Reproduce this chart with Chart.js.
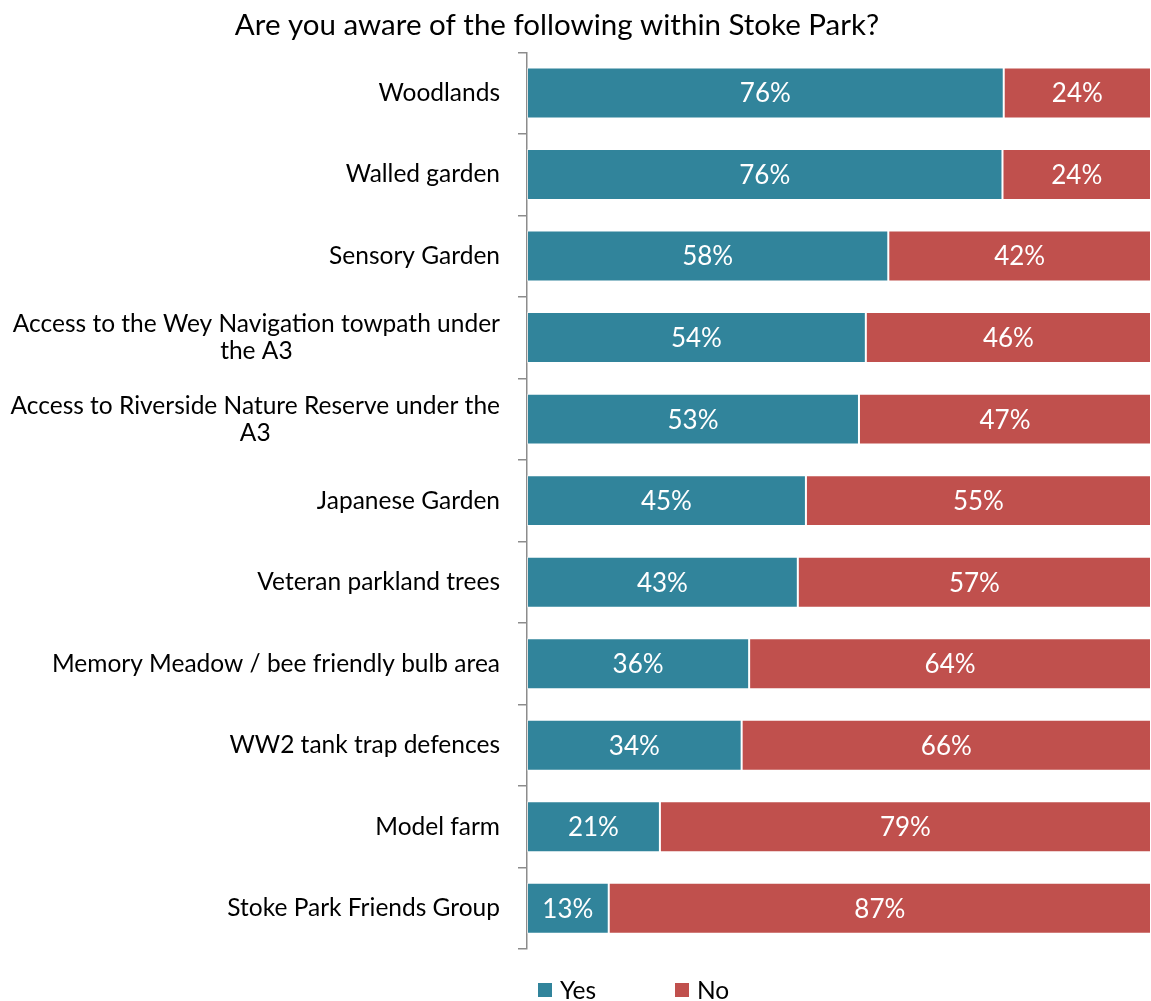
<!DOCTYPE html>
<html>
<head>
<meta charset="utf-8">
<script src="https://cdn.jsdelivr.net/npm/chart.js@4.4.1/dist/chart.umd.min.js"></script>
<style>
  html, body { margin: 0; padding: 0; background: #ffffff; }
  #wrap { width: 1151px; height: 1001px; position: relative; }
</style>
</head>
<body>
<div id="wrap"><canvas id="c"></canvas></div>
<script>
const titleText = "Are you aware of the following within Stoke Park?";
const categories = [
  ["Woodlands"],
  ["Walled garden"],
  ["Sensory Garden"],
  ["Access to the Wey Navigation towpath under", "the A3"],
  ["Access to Riverside Nature Reserve under the", "A3"],
  ["Japanese Garden"],
  ["Veteran parkland trees"],
  ["Memory Meadow / bee friendly bulb area"],
  ["WW2 tank trap defences"],
  ["Model farm"],
  ["Stoke Park Friends Group"]
];
const seriesNames = ["Yes", "No"];
const yesValues = [76.4, 76.2, 57.9, 54.3, 53.2, 44.7, 43.4, 35.6, 34.4, 21.3, 13.1];
const noValues  = [23.6, 23.8, 42.1, 45.7, 46.8, 55.3, 56.6, 64.4, 65.6, 78.7, 86.9];
const seriesColors = ["#31849B", "#C0504D"];

const FONT = "Lato, 'Open Sans', sans-serif";

const customDraw = {
  id: 'customDraw',
  afterLayout(chart) {
    const t = chart.titleBlock;
    if (t) { t.left = 0; t.right = 1114; }
  },
  afterDatasetsDraw(chart) {
    const ctx = chart.ctx;
    ctx.save();
    // data labels
    ctx.font = "26px " + FONT;
    ctx.fillStyle = "#ffffff";
    ctx.textAlign = "center";
    ctx.textBaseline = "middle";
    chart.data.datasets.forEach((ds, di) => {
      const meta = chart.getDatasetMeta(di);
      meta.data.forEach((bar, i) => {
        const v = ds.data[i];
        const cx = (bar.x + bar.base) / 2;
        ctx.fillText(Math.round(v) + "%", cx, bar.y + 1);
      });
    });
    // category labels
    const yScale = chart.scales.y;
    ctx.fillStyle = "#000000";
    ctx.font = "24.5px " + FONT;
    const rightX = 500;
    const lineH = 27;
    categories.forEach((lines, i) => {
      const cy = yScale.getPixelForTick(i);
      if (lines.length === 1) {
        ctx.textAlign = "right";
        ctx.fillText(lines[0], rightX, cy);
      } else {
        let widest = 0;
        lines.forEach(l => { widest = Math.max(widest, ctx.measureText(l).width); });
        const centerX = rightX - widest / 2;
        ctx.textAlign = "center";
        const startY = cy - (lines.length - 1) * lineH / 2;
        lines.forEach((l, k) => ctx.fillText(l, centerX, startY + k * lineH));
      }
    });
    // legend
    const legendX = [538, 675];
    const legendY = 990;
    ctx.textAlign = "left";
    ctx.font = "24.5px " + FONT;
    chart.data.datasets.forEach((ds, di) => {
      ctx.fillStyle = ds.backgroundColor;
      ctx.fillRect(legendX[di], legendY - 7, 14, 14);
      ctx.fillStyle = "#000000";
      ctx.fillText(ds.label, legendX[di] + 22, legendY + 1);
    });
    ctx.restore();
  }
};

new Chart(document.getElementById('c'), {
  type: 'bar',
  data: {
    labels: categories.map(c => c.join(' ')),
    datasets: [
      { label: seriesNames[0], data: yesValues, backgroundColor: seriesColors[0],
        borderColor: 'rgba(255,255,255,0.45)', borderWidth: 1, borderSkipped: false,
        barPercentage: 0.625, categoryPercentage: 1.0 },
      { label: seriesNames[1], data: noValues, backgroundColor: seriesColors[1],
        borderColor: 'rgba(255,255,255,0.45)', borderWidth: 1, borderSkipped: false,
        barPercentage: 0.625, categoryPercentage: 1.0 }
    ]
  },
  options: {
    indexAxis: 'y',
    responsive: true,
    maintainAspectRatio: false,
    animation: false,
    layout: { padding: { left: 518, right: 0, top: 0, bottom: 52 } },
    plugins: {
      legend: { display: false },
      tooltip: { enabled: false },
      title: {
        display: true,
        text: titleText,
        color: '#000000',
        font: { family: FONT, size: 29.5, weight: 'normal', lineHeight: 1.06 },
        padding: { top: 10, bottom: 11 }
      }
    },
    scales: {
      x: { stacked: true, min: 0, max: 100, display: false },
      y: {
        stacked: true,
        ticks: { display: false },
        grid: { display: true, drawOnChartArea: false, drawTicks: true, tickLength: 9,
                offset: true, color: '#8c8c8c', lineWidth: 1.5 },
        border: { display: true, color: '#8c8c8c', width: 1.5 }
      }
    }
  },
  plugins: [customDraw]
});
</script>
</body>
</html>
